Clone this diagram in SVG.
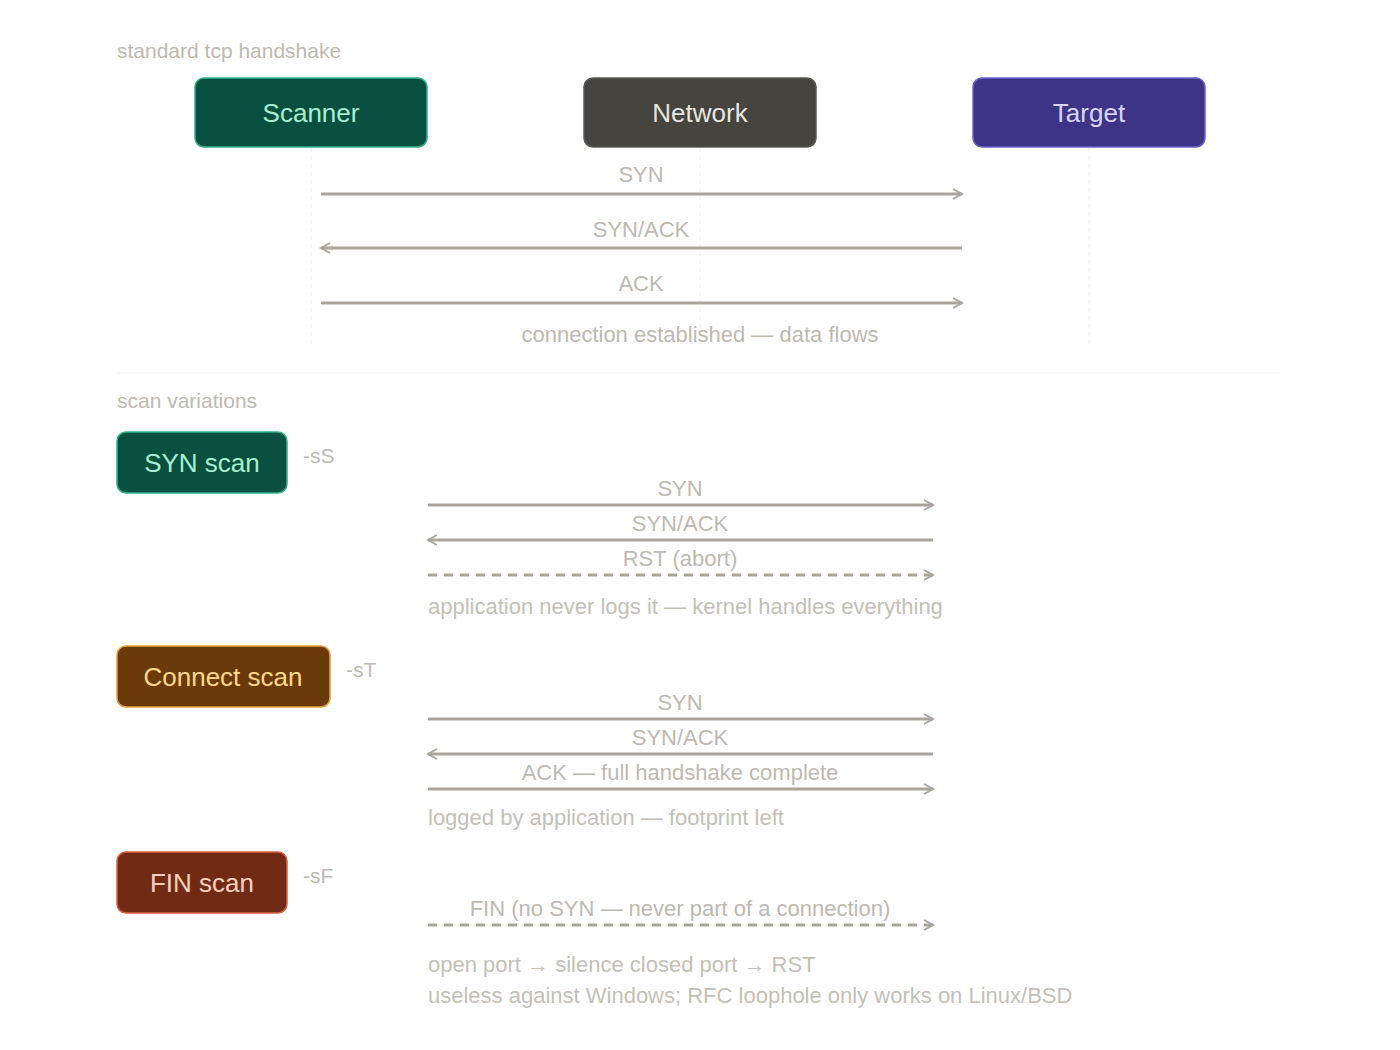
<svg xmlns="http://www.w3.org/2000/svg" width="1400" height="1050" viewBox="0 0 1400 1050">
<style>
text{font-family:"Liberation Sans",Arial,sans-serif}
.h{font-size:21px;fill:#bdb9b1}
.lbl{font-size:22px;fill:#bdb9b1;text-anchor:middle}
.note{font-size:22px;fill:#c3bfb7}
.ln{stroke:#a9a59c;stroke-width:3;fill:none}
.ds{stroke-dasharray:9 7}
.life{stroke:#eeece8;stroke-width:1;stroke-dasharray:4 4}
.nt{font-size:26px;text-anchor:middle}
</style>
<defs>
<marker id="ah" viewBox="0 0 12 12" refX="10" refY="6" markerWidth="12" markerHeight="12" markerUnits="userSpaceOnUse" orient="auto-start-reverse">
<path d="M1,1 L10,6 L1,11" fill="none" stroke="#a9a59c" stroke-width="2"/>
</marker>
</defs>
<rect width="1400" height="1050" fill="#fff"/>
<text class="h" x="117" y="58">standard tcp handshake</text>
<line class="life" x1="311" y1="148" x2="311" y2="345"/>
<line class="life" x1="700" y1="148" x2="700" y2="345"/>
<line class="life" x1="1089" y1="148" x2="1089" y2="345"/>
<g id="scanner"><rect x="195" y="78" width="232" height="69" rx="9" fill="#0a5040" stroke="#2fb58c" stroke-width="1.5"/><text class="nt" x="311" y="122" fill="#a8efcf">Scanner</text></g>
<g id="network"><rect x="584" y="78" width="232" height="69" rx="9" fill="#45443f" stroke="#5a5954" stroke-width="1.5"/><text class="nt" x="700" y="122" fill="#e8e6e0">Network</text></g>
<g id="target"><rect x="973" y="78" width="232" height="69" rx="9" fill="#3d3487" stroke="#6e62d0" stroke-width="1.5"/><text class="nt" x="1089" y="122" fill="#d9d4ff">Target</text></g>
<line x1="117" y1="373" x2="1280" y2="373" stroke="#f0eeea" stroke-width="1"/>
<text class="h" x="117" y="408">scan variations</text>
<g id="syn-scan"><rect x="117" y="432" width="170" height="61" rx="9" fill="#0a5040" stroke="#2fb58c" stroke-width="1.5"/><text class="nt" x="202" y="472" fill="#a8efcf">SYN scan</text></g>
<text class="h" x="303" y="463">-sS</text>
<g id="connect-scan"><rect x="117" y="646" width="213" height="61" rx="9" fill="#6b3a0a" stroke="#e8a030" stroke-width="1.5"/><text class="nt" x="223" y="686" fill="#ffd98a">Connect scan</text></g>
<text class="h" x="346" y="677">-sT</text>
<g id="fin-scan"><rect x="117" y="852" width="170" height="61" rx="9" fill="#712b15" stroke="#e06040" stroke-width="1.5"/><text class="nt" x="202" y="892" fill="#ffd0c0">FIN scan</text></g>
<text class="h" x="303" y="883">-sF</text>
<g id="connectors">
<line class="ln" x1="321" y1="194" x2="962" y2="194" marker-end="url(#ah)"/>
<line class="ln" x1="962" y1="248" x2="321" y2="248" marker-end="url(#ah)"/>
<line class="ln" x1="321" y1="303" x2="962" y2="303" marker-end="url(#ah)"/>
<line class="ln" x1="428" y1="505" x2="933" y2="505" marker-end="url(#ah)"/>
<line class="ln" x1="933" y1="540" x2="428" y2="540" marker-end="url(#ah)"/>
<line class="ln ds" x1="428" y1="575" x2="933" y2="575" marker-end="url(#ah)"/>
<line class="ln" x1="428" y1="719" x2="933" y2="719" marker-end="url(#ah)"/>
<line class="ln" x1="933" y1="754" x2="428" y2="754" marker-end="url(#ah)"/>
<line class="ln" x1="428" y1="789" x2="933" y2="789" marker-end="url(#ah)"/>
<line class="ln ds" x1="428" y1="925" x2="933" y2="925" marker-end="url(#ah)"/>
</g>
<text class="lbl" x="641" y="182">SYN</text>
<text class="lbl" x="641" y="237">SYN/ACK</text>
<text class="lbl" x="641" y="291">ACK</text>
<text class="lbl" x="700" y="342">connection established — data flows</text>
<text class="lbl" x="680" y="496">SYN</text>
<text class="lbl" x="680" y="531">SYN/ACK</text>
<text class="lbl" x="680" y="566">RST (abort)</text>
<text class="note" x="428" y="614">application never logs it — kernel handles everything</text>
<text class="lbl" x="680" y="710">SYN</text>
<text class="lbl" x="680" y="745">SYN/ACK</text>
<text class="lbl" x="680" y="780">ACK — full handshake complete</text>
<text class="note" x="428" y="825">logged by application — footprint left</text>
<text class="lbl" x="680" y="916">FIN (no SYN — never part of a connection)</text>
<text class="note" x="428" y="972">open port → silence closed port → RST</text>
<text class="note" x="428" y="1003">useless against Windows; RFC loophole only works on Linux/BSD</text>
</svg>
